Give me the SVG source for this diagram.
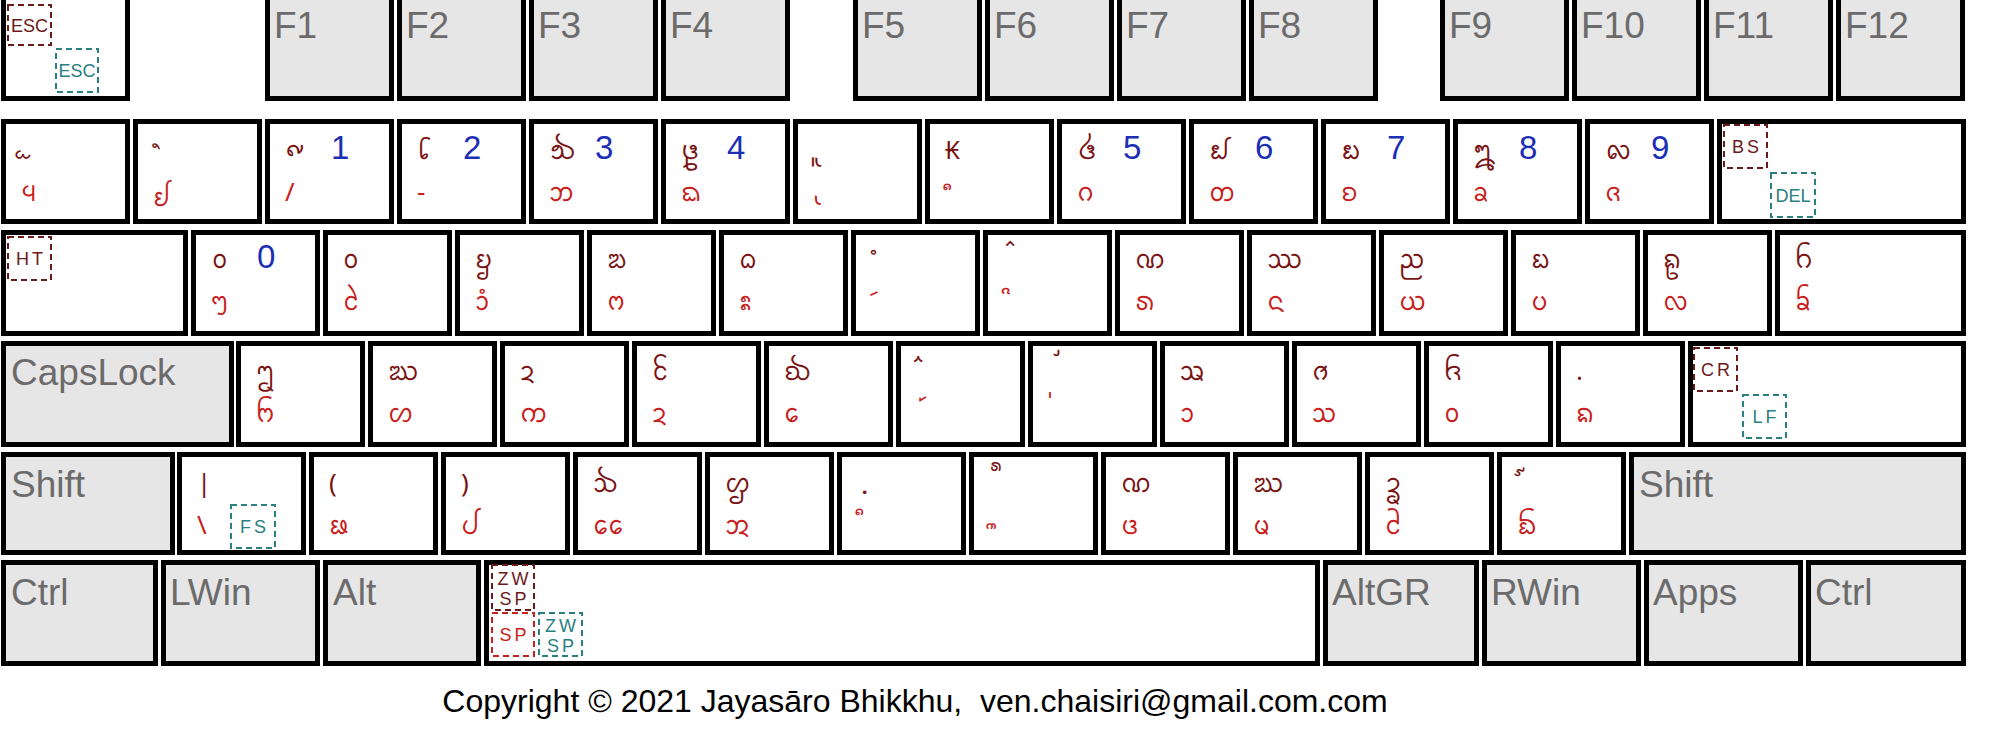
<svg xmlns="http://www.w3.org/2000/svg" width="2016" height="747" viewBox="0 0 2016 747">
<style>
.k{fill:#fff;stroke:#000;stroke-width:5}
.g{fill:#e6e6e6;stroke:#000;stroke-width:5}
.lb{font-family:"Liberation Sans",Arial,sans-serif;font-size:37px;fill:#6b6b6b}
.s{font-family:"Noto Sans Tai Tham","Noto Sans",sans-serif;font-size:26px;fill:#7a1414}
.u{font-family:"Noto Sans Tai Tham","Noto Sans",sans-serif;font-size:26px;fill:#c8201c}
.n{font-family:"Liberation Sans",Arial,sans-serif;font-size:33px;fill:#1c2fb4}
.bx{fill:none;stroke-width:2;stroke-dasharray:6 4}
.dr{stroke:#6b1a1a}.tl{stroke:#2a8080}.rd{stroke:#c8201c}
.bt{font-family:"Liberation Sans",Arial,sans-serif;font-size:18px;text-anchor:middle}
.tdr{fill:#6b1a1a}.ttl{fill:#2a8080}.trd{fill:#c8201c}
.sp{letter-spacing:3px}
.cp{font-family:"Liberation Sans",Arial,sans-serif;font-size:32px;fill:#000;text-anchor:middle;white-space:pre}
</style>
<rect width="2016" height="747" fill="#fff"/>
<g id="connectors"/>
<!-- Row 1 -->
<g id="k-esc"><rect class="k" x="3.5" y="-7.5" width="124" height="106"/>
<rect class="bx dr" x="8" y="5" width="43" height="40"/><text class="bt tdr" x="29.5" y="32">ESC</text>
<rect class="bx tl" x="56" y="49" width="42" height="43"/><text class="bt ttl" x="77" y="77">ESC</text></g>
<g id="k-f1"><rect class="g" x="267.5" y="-7.5" width="124" height="106"/><text class="lb" x="274" y="38">F1</text></g>
<g id="k-f2"><rect class="g" x="399.5" y="-7.5" width="124" height="106"/><text class="lb" x="406" y="38">F2</text></g>
<g id="k-f3"><rect class="g" x="531.5" y="-7.5" width="124" height="106"/><text class="lb" x="538" y="38">F3</text></g>
<g id="k-f4"><rect class="g" x="663.5" y="-7.5" width="124" height="106"/><text class="lb" x="670" y="38">F4</text></g>
<g id="k-f5"><rect class="g" x="855.5" y="-7.5" width="124" height="106"/><text class="lb" x="862" y="38">F5</text></g>
<g id="k-f6"><rect class="g" x="987.5" y="-7.5" width="124" height="106"/><text class="lb" x="994" y="38">F6</text></g>
<g id="k-f7"><rect class="g" x="1119.5" y="-7.5" width="124" height="106"/><text class="lb" x="1126" y="38">F7</text></g>
<g id="k-f8"><rect class="g" x="1251.5" y="-7.5" width="124" height="106"/><text class="lb" x="1258" y="38">F8</text></g>
<g id="k-f9"><rect class="g" x="1442.5" y="-7.5" width="124" height="106"/><text class="lb" x="1449" y="38">F9</text></g>
<g id="k-f10"><rect class="g" x="1574.5" y="-7.5" width="124" height="106"/><text class="lb" x="1581" y="38">F10</text></g>
<g id="k-f11"><rect class="g" x="1706.5" y="-7.5" width="124" height="106"/><text class="lb" x="1713" y="38">F11</text></g>
<g id="k-f12"><rect class="g" x="1838.5" y="-7.5" width="124" height="106"/><text class="lb" x="1845" y="38">F12</text></g>
<!-- Row 2 -->
<g id="k-grave"><rect class="k" x="3.5" y="121.5" width="124" height="100"/><text class="s" x="21" y="147">&#160;ᩬ</text><text class="u" x="21" y="201">᪪</text></g>
<g id="k-1"><rect class="k" x="135.5" y="121.5" width="124" height="100"/><text class="s" x="153" y="165">&#160;ᩫ</text><text class="u" x="153" y="206">ᩀ</text></g>
<g id="k-2"><rect class="k" x="267.5" y="121.5" width="124" height="100"/><text class="s" x="285" y="159">᪑</text><text class="n" x="331" y="159">1</text><text class="u" x="285" y="201">/</text></g>
<g id="k-3"><rect class="k" x="399.5" y="121.5" width="124" height="100"/><text class="s" x="417" y="159">᪒</text><text class="n" x="463" y="159">2</text><text class="u" x="417" y="201">-</text></g>
<g id="k-4"><rect class="k" x="531.5" y="121.5" width="124" height="100"/><text class="s" x="549" y="159">᪓</text><text class="n" x="595" y="159">3</text><text class="u" x="549" y="201">ᨽ</text></g>
<g id="k-5"><rect class="k" x="663.5" y="121.5" width="124" height="100"/><text class="s" x="681" y="159">᪔</text><text class="n" x="727" y="159">4</text><text class="u" x="681" y="201">ᨳ</text></g>
<g id="k-6"><rect class="k" x="795.5" y="121.5" width="124" height="100"/><text class="s" x="813" y="155">&#160;ᩪ</text><text class="u" x="813" y="193">&#160;ᩩ</text></g>
<g id="k-7"><rect class="k" x="927.5" y="121.5" width="124" height="100"/><text class="s" x="945" y="159">₭</text><text class="u" x="945" y="206">&#160;ᩧ</text></g>
<g id="k-8"><rect class="k" x="1059.5" y="121.5" width="124" height="100"/><text class="s" x="1077" y="159">᪕</text><text class="n" x="1123" y="159">5</text><text class="u" x="1077" y="201">ᨣ</text></g>
<g id="k-9"><rect class="k" x="1191.5" y="121.5" width="124" height="100"/><text class="s" x="1209" y="159">᪖</text><text class="n" x="1255" y="159">6</text><text class="u" x="1209" y="201">ᨲ</text></g>
<g id="k-0"><rect class="k" x="1323.5" y="121.5" width="124" height="100"/><text class="s" x="1341" y="159">᪗</text><text class="n" x="1387" y="159">7</text><text class="u" x="1341" y="201">ᨧ</text></g>
<g id="k-minus"><rect class="k" x="1455.5" y="121.5" width="124" height="100"/><text class="s" x="1473" y="159">᪘</text><text class="n" x="1519" y="159">8</text><text class="u" x="1473" y="201">ᨡ</text></g>
<g id="k-equal"><rect class="k" x="1587.5" y="121.5" width="124" height="100"/><text class="s" x="1605" y="159">᪙</text><text class="n" x="1651" y="159">9</text><text class="u" x="1605" y="201">ᨩ</text></g>
<g id="k-bs"><rect class="k" x="1719.5" y="121.5" width="244" height="100"/>
<rect class="bx dr" x="1724" y="125" width="43" height="43"/><text class="bt tdr sp" x="1747" y="153">BS</text>
<rect class="bx tl" x="1771" y="173" width="44" height="44"/><text class="bt ttl" x="1793" y="202">DEL</text></g>
<!-- Row 3 -->
<g id="k-tab"><rect class="k" x="3.5" y="232.5" width="182" height="101"/>
<rect class="bx dr" x="8" y="237" width="43" height="43"/><text class="bt tdr sp" x="31" y="265">HT</text></g>
<g id="k-q"><rect class="k" x="193.5" y="232.5" width="124" height="101"/><text class="s" x="211" y="268">᪐</text><text class="n" x="257" y="268">0</text><text class="u" x="211" y="310">ᪧ</text></g>
<g id="k-w"><rect class="k" x="325.5" y="232.5" width="124" height="101"/><text class="s" x="343" y="268">᪀</text><text class="u" x="343" y="310">ᩱ</text></g>
<g id="k-e"><rect class="k" x="457.5" y="232.5" width="124" height="101"/><text class="s" x="475" y="268">ᨮ</text><text class="u" x="475" y="310">ᩣᩴ</text></g>
<g id="k-r"><rect class="k" x="589.5" y="232.5" width="124" height="101"/><text class="s" x="607" y="268">ᨰ</text><text class="u" x="607" y="310">ᨻ</text></g>
<g id="k-t"><rect class="k" x="721.5" y="232.5" width="124" height="101"/><text class="s" x="739" y="268">ᨵ</text><text class="u" x="739" y="310">ᩡ</text></g>
<g id="k-y"><rect class="k" x="853.5" y="232.5" width="124" height="101"/><text class="s" x="871" y="271">&#160;ᩴ</text><text class="u" x="871" y="312">&#160;ᩢ</text></g>
<g id="k-u"><rect class="k" x="985.5" y="232.5" width="124" height="101"/><text class="s" x="1003" y="262">&#160;᩷</text><text class="u" x="1003" y="310">&#160;ᩦ</text></g>
<g id="k-i"><rect class="k" x="1117.5" y="232.5" width="124" height="101"/><text class="s" x="1135" y="268">ᨱ</text><text class="u" x="1135" y="310">ᩁ</text></g>
<g id="k-o"><rect class="k" x="1249.5" y="232.5" width="124" height="101"/><text class="s" x="1267" y="268">ᩔ</text><text class="u" x="1267" y="310">ᨶ</text></g>
<g id="k-p"><rect class="k" x="1381.5" y="232.5" width="124" height="101"/><text class="s" x="1399" y="268">ᨬ</text><text class="u" x="1399" y="310">ᨿ</text></g>
<g id="k-lbracket"><rect class="k" x="1513.5" y="232.5" width="124" height="101"/><text class="s" x="1531" y="268">ᨭ</text><text class="u" x="1531" y="310">ᨷ</text></g>
<g id="k-rbracket"><rect class="k" x="1645.5" y="232.5" width="124" height="101"/><text class="s" x="1663" y="268">ᩊ</text><text class="u" x="1663" y="310">ᩃ</text></g>
<g id="k-backslash"><rect class="k" x="1777.5" y="232.5" width="186" height="101"/><text class="s" x="1795" y="268">ᨤ</text><text class="u" x="1795" y="310">ᨢ</text></g>
<!-- Row 4 -->
<g id="k-caps"><rect class="g" x="3.5" y="343.5" width="228" height="101"/><text class="lb" x="11" y="385">CapsLock</text></g>
<g id="k-a"><rect class="k" x="238.5" y="343.5" width="124" height="101"/><text class="s" x="256" y="380">ᩂ</text><text class="u" x="256" y="422">ᨼ</text></g>
<g id="k-s"><rect class="k" x="370.5" y="343.5" width="124" height="101"/><text class="s" x="388" y="380">ᨥ</text><text class="u" x="388" y="422">ᩉ</text></g>
<g id="k-d"><rect class="k" x="502.5" y="343.5" width="124" height="101"/><text class="s" x="520" y="380">ᨯ</text><text class="u" x="520" y="422">ᨠ</text></g>
<g id="k-f"><rect class="k" x="634.5" y="343.5" width="124" height="101"/><text class="s" x="652" y="380">ᩰ</text><text class="u" x="652" y="422">ᨯ</text></g>
<g id="k-g"><rect class="k" x="766.5" y="343.5" width="124" height="101"/><text class="s" x="784" y="380">ᨫ</text><text class="u" x="784" y="422">ᩮ</text></g>
<g id="k-h"><rect class="k" x="898.5" y="343.5" width="124" height="101"/><text class="s" x="916" y="378">&#160;ᩳ</text><text class="u" x="916" y="418">&#160;᩶</text></g>
<g id="k-j"><rect class="k" x="1030.5" y="343.5" width="124" height="101"/><text class="s" x="1048" y="372">&#160;᩸</text><text class="u" x="1048" y="414">&#160;᩵</text></g>
<g id="k-k"><rect class="k" x="1162.5" y="343.5" width="124" height="101"/><text class="s" x="1180" y="380">ᩇ</text><text class="u" x="1180" y="422">ᩣ</text></g>
<g id="k-l"><rect class="k" x="1294.5" y="343.5" width="124" height="101"/><text class="s" x="1312" y="380">ᩆ</text><text class="u" x="1312" y="422">ᩈ</text></g>
<g id="k-semicolon"><rect class="k" x="1426.5" y="343.5" width="124" height="101"/><text class="s" x="1444" y="380">ᨪ</text><text class="u" x="1444" y="422">ᩅ</text></g>
<g id="k-quote"><rect class="k" x="1558.5" y="343.5" width="124" height="101"/><text class="s" x="1576" y="380">.</text><text class="u" x="1576" y="422">ᨦ</text></g>
<g id="k-enter"><rect class="k" x="1690.5" y="343.5" width="273" height="101"/>
<rect class="bx dr" x="1694" y="348" width="43" height="43"/><text class="bt tdr sp" x="1717" y="376">CR</text>
<rect class="bx tl" x="1743" y="395" width="43" height="43"/><text class="bt ttl sp" x="1766" y="423">LF</text></g>
<!-- Row 5 -->
<g id="k-lshift"><rect class="g" x="3.5" y="454.5" width="169" height="98"/><text class="lb" x="11" y="497">Shift</text></g>
<g id="k-iso"><rect class="k" x="179.5" y="454.5" width="124" height="98"/><text class="s" x="197" y="492">|</text><text class="u" x="197" y="534">\</text>
<rect class="bx tl" x="231" y="505" width="44" height="43"/><text class="bt ttl sp" x="254.5" y="533">FS</text></g>
<g id="k-z"><rect class="k" x="311.5" y="454.5" width="124" height="98"/><text class="s" x="329" y="492">(</text><text class="u" x="329" y="534">ᨹ</text></g>
<g id="k-x"><rect class="k" x="443.5" y="454.5" width="124" height="98"/><text class="s" x="461" y="492">)</text><text class="u" x="461" y="534">ᨸ</text></g>
<g id="k-c"><rect class="k" x="575.5" y="454.5" width="124" height="98"/><text class="s" x="593" y="492">ᨨ</text><text class="u" x="593" y="534">ᩯ</text></g>
<g id="k-v"><rect class="k" x="707.5" y="454.5" width="124" height="98"/><text class="s" x="725" y="492">ᩌ</text><text class="u" x="725" y="534">ᩋ</text></g>
<g id="k-b"><rect class="k" x="839.5" y="454.5" width="124" height="98"/><text class="s" x="857" y="488">&#160;᩿</text><text class="u" x="857" y="531">&#160;ᩥ</text></g>
<g id="k-n"><rect class="k" x="971.5" y="454.5" width="124" height="98"/><text class="s" x="989" y="487">&#160;᩺</text><text class="u" x="989" y="545">&#160;ᩨ</text></g>
<g id="k-m"><rect class="k" x="1103.5" y="454.5" width="124" height="98"/><text class="s" x="1121" y="492">ᨱ</text><text class="u" x="1121" y="534">ᨴ</text></g>
<g id="k-comma"><rect class="k" x="1235.5" y="454.5" width="124" height="98"/><text class="s" x="1253" y="492">ᨥ</text><text class="u" x="1253" y="534">ᨾ</text></g>
<g id="k-period"><rect class="k" x="1367.5" y="454.5" width="124" height="98"/><text class="s" x="1385" y="492">ᩄ</text><text class="u" x="1385" y="534">ᩲ</text></g>
<g id="k-slash"><rect class="k" x="1499.5" y="454.5" width="124" height="98"/><text class="s" x="1517" y="492">&#160;᩼</text><text class="u" x="1517" y="534">ᨺ</text></g>
<g id="k-rshift"><rect class="g" x="1631.5" y="454.5" width="332" height="98"/><text class="lb" x="1639" y="497">Shift</text></g>
<!-- Row 6 -->
<g id="k-lctrl"><rect class="g" x="3.5" y="562.5" width="152" height="101"/><text class="lb" x="11" y="605">Ctrl</text></g>
<g id="k-lwin"><rect class="g" x="163.5" y="562.5" width="154" height="101"/><text class="lb" x="170" y="605">LWin</text></g>
<g id="k-alt"><rect class="g" x="325.5" y="562.5" width="153" height="101"/><text class="lb" x="333" y="605">Alt</text></g>
<g id="k-space"><rect class="k" x="486.5" y="562.5" width="831" height="101"/>
<rect class="bx dr" x="492" y="565" width="42" height="45"/><text class="bt tdr sp" x="514.5" y="585">ZW</text><text class="bt tdr sp" x="514.5" y="605">SP</text>
<rect class="bx rd" x="492" y="613" width="42" height="43"/><text class="bt trd sp" x="514.5" y="641">SP</text>
<rect class="bx tl" x="539" y="613" width="43" height="43"/><text class="bt ttl sp" x="562" y="632">ZW</text><text class="bt ttl sp" x="562" y="652">SP</text></g>
<g id="k-altgr"><rect class="g" x="1325.5" y="562.5" width="151" height="101"/><text class="lb" x="1332" y="605">AltGR</text></g>
<g id="k-rwin"><rect class="g" x="1484.5" y="562.5" width="154" height="101"/><text class="lb" x="1491" y="605">RWin</text></g>
<g id="k-apps"><rect class="g" x="1646.5" y="562.5" width="154" height="101"/><text class="lb" x="1653" y="605">Apps</text></g>
<g id="k-rctrl"><rect class="g" x="1808.5" y="562.5" width="155" height="101"/><text class="lb" x="1815" y="605">Ctrl</text></g>
<g id="copyright"><text class="cp" x="915" y="712" xml:space="preserve">Copyright © 2021 Jayasāro Bhikkhu,  ven.chaisiri@gmail.com.com</text></g>
</svg>
